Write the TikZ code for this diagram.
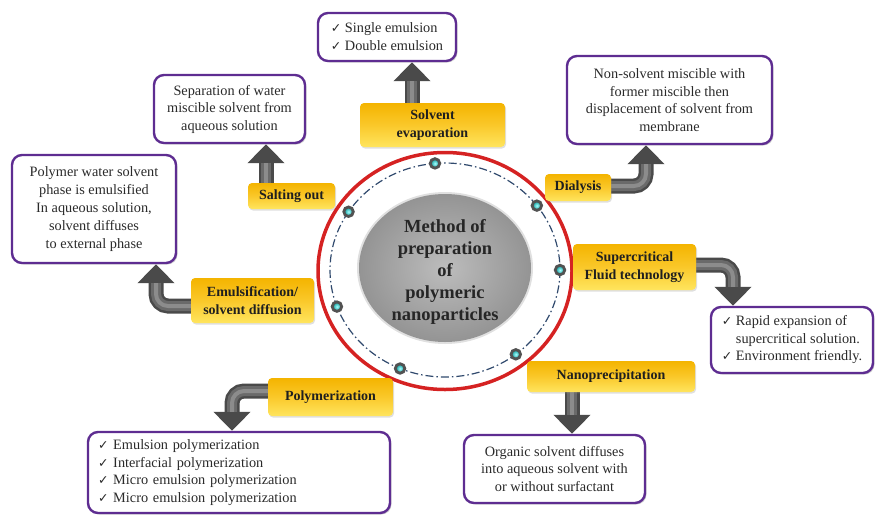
\documentclass[tikz,border=0pt]{standalone}
\usepackage{fontspec}
\setmainfont{Liberation Serif}
\newfontfamily\symf{DejaVu Sans}
\usetikzlibrary{arrows.meta,shadows,backgrounds}

\definecolor{boxpurple}{HTML}{5E2D91}
\definecolor{lblTop}{HTML}{F4B400}
\definecolor{lblMid}{HTML}{FAC82A}
\definecolor{lblBot}{HTML}{FFE55E}
\definecolor{arrDark}{HTML}{4A4A4A}
\definecolor{arrMid}{HTML}{6A6A6A}
\definecolor{arrLight}{HTML}{8C8C8C}
\definecolor{ringRed}{HTML}{D52222}
\definecolor{dashBlue}{HTML}{30496D}
\definecolor{txt}{HTML}{2A2A2A}

% check mark used in the bullet lists
\newcommand\ck{{\symf\fontsize{12.5}{12.5}\selectfont ✓}\ }

\begin{document}
\begin{tikzpicture}[x=1pt,y=-1pt,
  lbl/.style={rounded corners=4pt, inner sep=0pt, align=center,
    font=\fontsize{14}{18}\selectfont\bfseries, text=black!88,
    top color=lblTop, bottom color=lblBot, middle color=lblMid,
    drop shadow={shadow xshift=1pt, shadow yshift=-1.5pt, opacity=0.25}},
  infobox/.style={draw=boxpurple, line width=2.4pt, fill=white,
    rounded corners=10pt, inner sep=0pt, align=center,
    font=\fontsize{14.3}{17.5}\selectfont, text=txt,
    drop shadow={shadow xshift=1.5pt, shadow yshift=-1.5pt, opacity=0.35}},
  fatouter/.style={draw=arrDark, line width=15pt, rounded corners=12pt,
    -{Triangle[width=36pt,length=19pt]}},
  fatmid/.style={draw=arrMid, line width=10pt, rounded corners=12pt,
    shorten >=19pt},
  fatinner/.style={draw=arrLight, line width=4pt, rounded corners=12pt,
    shorten >=19pt},
  dot/.style={circle, minimum size=9.5pt, inner sep=0pt, draw=black!68,
    line width=2.8pt, inner color=cyan!35!white, outer color=teal!85!cyan}
]
\useasboundingbox (0,0) rectangle (876,515);

% central hub
\draw[ringRed, line width=3.5pt] (445,271) ellipse [x radius=127, y radius=118.5];
\draw[dashBlue, line width=1.2pt, dash pattern=on 8pt off 3pt on 1.5pt off 3pt]
  (445,270) ellipse [x radius=115, y radius=107];
\fill[black!12] (445,268) ellipse [x radius=88, y radius=76];
\shade[inner color=black!26, outer color=black!42] (445,268) ellipse [x radius=86, y radius=74];
\node[font=\fontsize{18.5}{22}\selectfont\bfseries, text=black!85, align=center]
  (hub) at (445,272) {Method of\\preparation\\of\\polymeric\\nanoparticles};
\foreach \t [count=\i] in {95,147,37,0,200,308,247}
  \node[dot] (d\i) at ({445+115*cos(\t)},{270-107*sin(\t)}) {};

% method labels
\node[lbl, minimum width=145pt, minimum height=44pt] (se)    at (432.5,125)   {Solvent\\evaporation};
\node[lbl, minimum width=87pt,  minimum height=26pt] (salt)  at (291.5,196)   {Salting out};
\node[lbl, minimum width=123pt, minimum height=45pt] (emul)  at (252.5,300.5) {Emulsification/\\solvent diffusion};
\node[lbl, minimum width=66pt,  minimum height=27pt] (dial)  at (578,187.5)   {Dialysis};
\node[lbl, minimum width=123pt, minimum height=46pt] (scf)   at (634.5,267)   {Supercritical\\Fluid technology};
\node[lbl, minimum width=168pt, minimum height=31pt] (nano)  at (611,376.5)   {Nanoprecipitation};
\node[lbl, minimum width=125pt, minimum height=38pt] (poly)  at (330.5,397)   {Polymerization};

% description boxes
\node[infobox, minimum width=138pt, minimum height=48pt, align=left, font=\fontsize{14.3}{18}\selectfont] (semul) at (387,37)
  {\ck Single emulsion\\\ck Double emulsion};
\node[infobox, minimum width=151pt, minimum height=68pt] (sep) at (229.5,109)
  {Separation of water\\miscible solvent from\\aqueous solution};
\node[infobox, minimum width=164pt, minimum height=108pt, font=\fontsize{14.3}{18}\selectfont] (polw) at (94,209)
  {Polymer water solvent\\phase is emulsified\\In aqueous solution,\\solvent diffuses\\to external phase};
\node[infobox, minimum width=205pt, minimum height=88pt] (nons) at (669.5,100)
  {Non-solvent miscible with\\former miscible then\\displacement of solvent from\\membrane};
\node[infobox, minimum width=162pt, minimum height=66pt, align=left] (rapid) at (792,340)
  {\ck Rapid expansion of\\\phantom{\ck}supercritical solution.\\\ck Environment friendly.};
\node[infobox, minimum width=181pt, minimum height=68pt] (org) at (554.5,469)
  {Organic solvent diffuses\\into aqueous solvent with\\or without surfactant};
\node[infobox, text width=282pt, inner xsep=10pt, minimum height=81pt, align=left] (plist) at (239,472.5)
  {\ck Emulsion polymerization\\\ck Interfacial polymerization\\\ck Micro emulsion polymerization\\\ck Micro emulsion polymerization};

% connecting arrows
\coordinate (a1) at ([xshift=-20.5pt,yshift=-3pt]se.north);
\coordinate (a2) at ([xshift=-25.5pt,yshift=-3pt]salt.north);
\coordinate (a3) at ([xshift=3pt,yshift=-5.5pt]emul.west);
\coordinate (k3) at (156,306);
\coordinate (a4) at ([xshift=-3pt,yshift=1.5pt]dial.east);
\coordinate (k4) at (646,186);
\coordinate (a5) at ([xshift=-3pt,yshift=2pt]scf.east);
\coordinate (k5) at (733,265);
\coordinate (a6) at ([xshift=-39pt,yshift=3pt]nano.south);
\coordinate (a7) at ([xshift=3pt,yshift=6pt]poly.west);
\coordinate (k7) at (232,391);
\begin{scope}[on background layer]
  \foreach \st in {fatouter,fatmid,fatinner}{
    \draw[\st] (a1) -- (a1 |- semul.south);
    \draw[\st] (a2) -- (a2 |- sep.south);
    \draw[\st] (a3) -- (k3) -- (k3 |- polw.south);
    \draw[\st] (a4) -- (k4) -- (k4 |- nons.south);
    \draw[\st] (a5) -- (k5) -- (k5 |- rapid.north);
    \draw[\st] (a6) -- (a6 |- org.north);
    \draw[\st] (a7) -- (k7) -- (k7 |- plist.north);
  }
\end{scope}
\end{tikzpicture}
\end{document}
